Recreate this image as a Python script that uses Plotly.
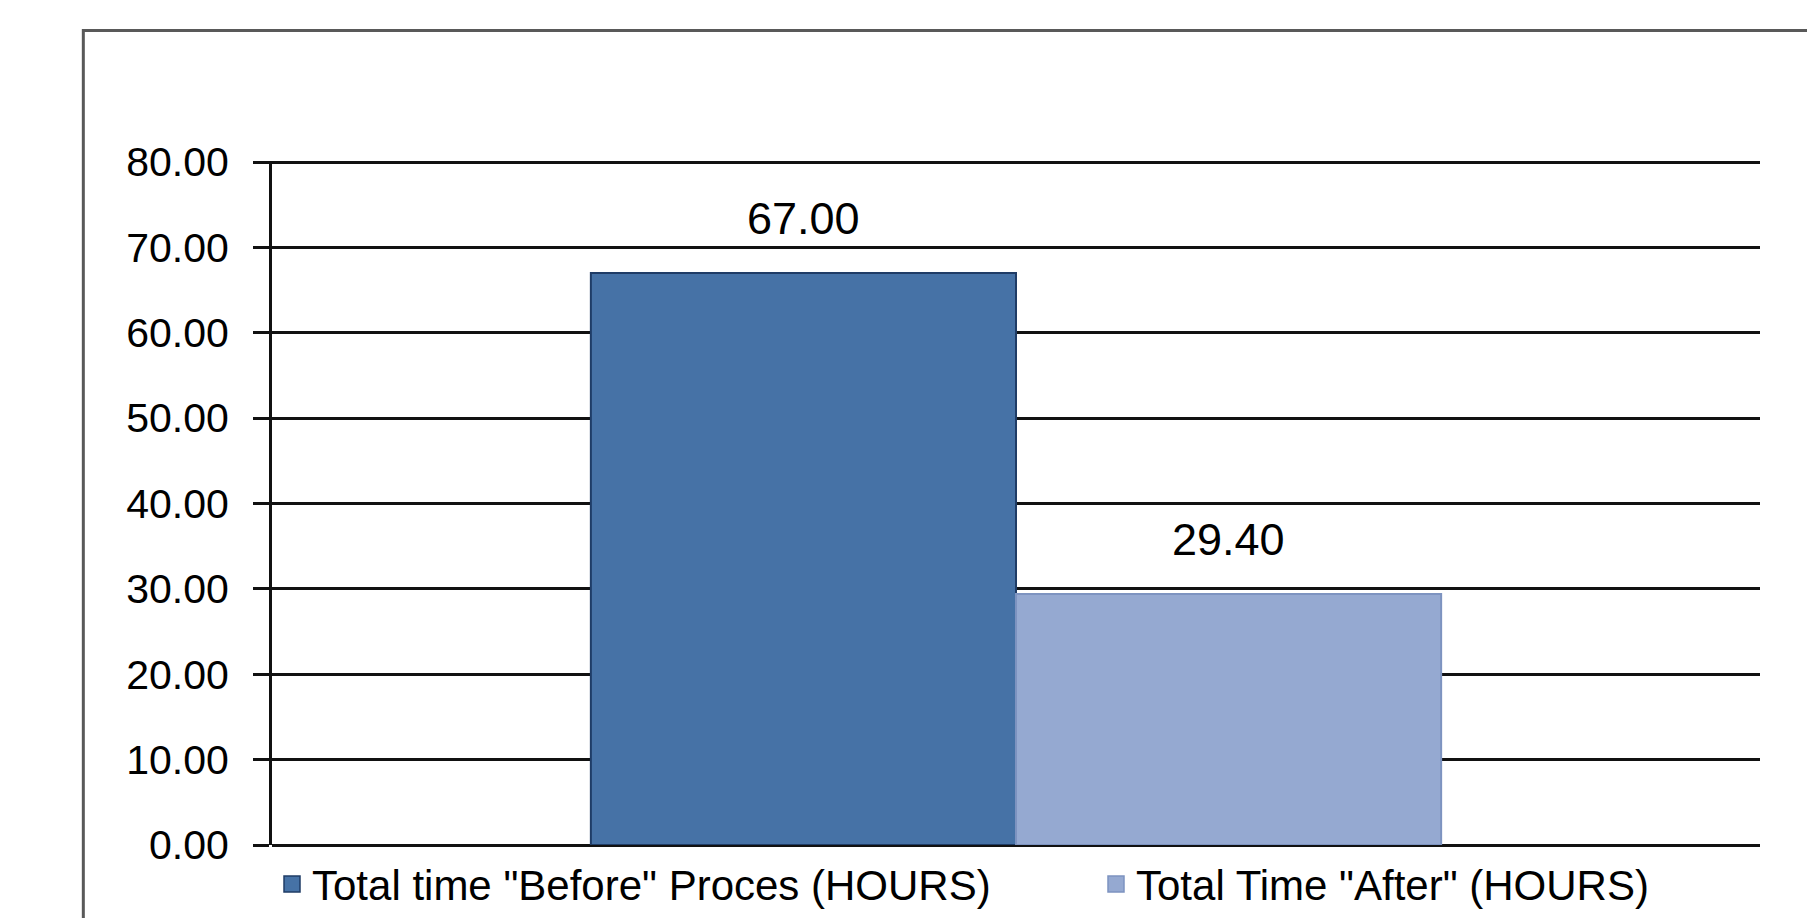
import plotly.graph_objects as go

# ---- data ----
series_names = ['Total time "Before" Proces (HOURS)', 'Total Time "After" (HOURS)']
series_values = [67.00, 29.40]
y_ticks = [0, 10, 20, 30, 40, 50, 60, 70, 80]

# ---- styles ----
fill_colors = ["#4672A6", "#95A9D1"]
edge_colors = ["#1F3C66", "#7D93C0"]
legend_widths = [779, 0]
FONT = "Liberation Sans, Arial, sans-serif"

fig = go.Figure()

for i, (name, val) in enumerate(zip(series_names, series_values)):
    fig.add_trace(go.Bar(
        x=[i], y=[val], width=1, name=name, showlegend=False,
        marker=dict(color=fill_colors[i], line=dict(color=edge_colors[i], width=2)),
        hovertemplate="%{y:.2f}<extra>" + name + "</extra>",
    ))

# legend entries (square markers)
for i, name in enumerate(series_names):
    fig.add_trace(go.Scatter(
        x=[None], y=[None], mode="markers", name=name, showlegend=True,
        legendwidth=legend_widths[i] if legend_widths[i] else None,
        marker=dict(symbol="square", size=16, color=fill_colors[i],
                    line=dict(color=edge_colors[i], width=1.5)),
    ))

# data labels
for i, val in enumerate(series_values):
    fig.add_annotation(
        x=i, y=val, xref="x", yref="y", text=f"{val:.2f}", showarrow=False,
        yanchor="bottom", yshift=27,
        font=dict(family=FONT, size=45, color="#000000"),
    )

# outer frame
fig.add_shape(type="rect", xref="paper", yref="paper",
              x0=-0.1268, x1=1.06, y0=-0.2, y1=1.1909,
              line=dict(color="#595959", width=3), fillcolor="rgba(0,0,0,0)")

fig.update_layout(
    width=1807, height=918,
    margin=dict(l=272, r=47, t=161, b=73, autoexpand=False),
    paper_bgcolor="white", plot_bgcolor="white",
    barmode="overlay",
    font=dict(family=FONT, color="#000000"),
    showlegend=True,
    legend=dict(
        orientation="h", x=0.0, xanchor="left", y=-0.0076, yanchor="top",
        font=dict(family=FONT, size=42, color="#000000"),
        bgcolor="rgba(0,0,0,0)",
    ),
    xaxis=dict(range=[-1.25, 2.25], showticklabels=False, showgrid=False,
               zeroline=False, showline=False, ticks="", fixedrange=True),
    yaxis=dict(range=[0, 80.12], tickvals=y_ticks, tickformat=".2f",
               ticks="outside", ticklen=16, tickwidth=3, tickcolor="#111111",
               showgrid=True, gridcolor="#111111", gridwidth=3,
               zeroline=True, zerolinecolor="#111111", zerolinewidth=3,
               showline=True, linecolor="#111111", linewidth=3,
               ticklabelstandoff=16,
               tickfont=dict(family=FONT, size=41, color="#000000")),
)

fig.write_html("out.html")
